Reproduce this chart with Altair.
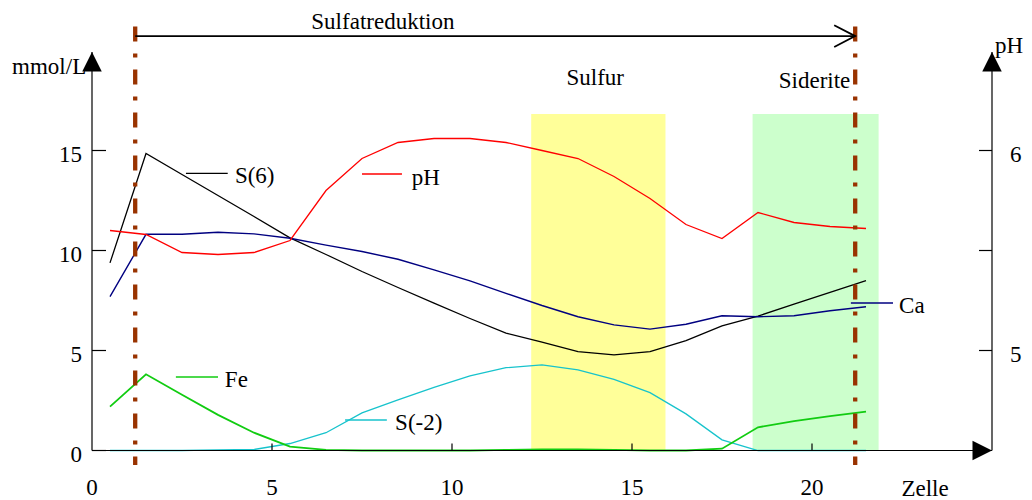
import altair as alt
import pandas as pd

# ---------------- data ----------------
zelle = [0.5, 1.5, 2.5, 3.5, 4.5, 5.5, 6.5, 7.5, 8.5, 9.5, 10.5,
         11.5, 12.5, 13.5, 14.5, 15.5, 16.5, 17.5, 18.5, 19.5, 20.5, 21.5]
s6 = [9.38, 14.85, 13.8, 12.75, 11.7, 10.63, 9.8, 8.95, 8.15, 7.37, 6.6,
      5.87, 5.42, 4.94, 4.78, 4.94, 5.49, 6.23, 6.72, 7.32, 7.91, 8.49]
ca = [7.69, 10.81, 10.81, 10.91, 10.83, 10.61, 10.27, 9.95, 9.56, 9.03, 8.48,
      7.86, 7.25, 6.69, 6.28, 6.07, 6.31, 6.74, 6.69, 6.74, 6.99, 7.19]
fe = [2.19, 3.81, 2.79, 1.78, 0.89, 0.19, 0.03, 0.0, 0.0, 0.0, 0.0,
      0.03, 0.05, 0.05, 0.03, 0.0, 0.0, 0.09, 1.16, 1.47, 1.72, 1.94]
s_minus2 = [0.0, 0.0, 0.0, 0.03, 0.05, 0.35, 0.89, 1.88, 2.53, 3.16, 3.73,
            4.14, 4.28, 4.03, 3.56, 2.89, 1.83, 0.53, 0.0, 0.0, 0.0, 0.0]
ph = [5.60, 5.58, 5.49, 5.48, 5.49, 5.55, 5.80, 5.96, 6.04, 6.06, 6.06,
      6.04, 6.00, 5.96, 5.87, 5.76, 5.63, 5.56, 5.69, 5.64, 5.62, 5.61]

series_cols = ["s_minus2", "fe", "s6", "ca"]
series_labels = ["S(-2)", "Fe", "S(6)", "Ca"]
series_colors = ["#17c3cc", "#11cc11", "#000000", "#000080"]
series_widths = [1.3, 1.8, 1.3, 1.4]
ph_color = "#ff0000"

x_domain = [0, 25]
y_domain = [0, 20]
ph_domain = [4.5, 6.5]
x_ticks = [0, 5, 10, 15, 20]
y_ticks = [0, 5, 10, 15]
ph_ticks = [5.0, 5.5, 6.0]
ph_labels = [5, 6]

zone_names = ["Sulfur", "Siderite"]
zone_start = [12.2, 18.35]
zone_end = [15.93, 21.85]
zone_top = [16.83, 16.83]
zone_colors = ["#ffff99", "#ccffcc"]

boundary_x = [1.2, 21.2]
boundary_top = 21.2
boundary_bottom = -0.73
arrow_y = 20.72
axis_top = 19.93

# annotation texts (data coordinates)
txt_center = ["Sulfatreduktion", "Sulfur", "Siderite", "Zelle"]
txt_center_x = [8.08, 13.98, 20.07, 23.14]
txt_center_y = [21.075, 18.3, 18.15, -2.275]
txt_left = ["mmol/L", "pH", "S(6)", "pH", "Fe", "S(-2)", "Ca"]
txt_left_x = [-2.22, 25.08, 3.97, 8.88, 3.69, 8.42, 22.42]
txt_left_y = [18.825, 19.875, 13.36, 13.275, 3.175, 1.025, 6.875]

# inline legend segments
leg_x0 = [2.61, 7.5, 2.33, 7.03, 21.08]
leg_x1 = [3.77, 8.61, 3.5, 8.19, 22.25]
leg_y = [13.86, 13.825, 3.675, 1.525, 7.375]
leg_color = ["#000000", ph_color, "#11cc11", "#17c3cc", "#000080"]

FONT = "Liberation Serif, Times New Roman, serif"
FS = 23

# ---------------- chart ----------------
xs = alt.Scale(domain=x_domain, nice=False, zero=False)
ys = alt.Scale(domain=y_domain, nice=False, zero=False)


def X(f):
    return alt.X(f, type="quantitative", scale=xs, axis=None)


def Y(f):
    return alt.Y(f, type="quantitative", scale=ys, axis=None)


ph_expr = (f"(datum.ph - {ph_domain[0]}) / ({ph_domain[1]} - {ph_domain[0]})"
           f" * {y_domain[1]}")

df = pd.DataFrame({"zelle": zelle, "s6": s6, "ca": ca, "fe": fe,
                   "s_minus2": s_minus2, "ph": ph})

layers = []

# background zones
for i in range(len(zone_names)):
    zdf = pd.DataFrame({"x0": [zone_start[i]], "x1": [zone_end[i]],
                        "b": [0.0], "t": [zone_top[i]]})
    layers.append(alt.Chart(zdf).mark_rect(color=zone_colors[i]).encode(
        x=X("x0"), x2="x1", y=Y("b"), y2="t"))

# concentration series
for col, c, w in zip(series_cols, series_colors, series_widths):
    layers.append(alt.Chart(df).mark_line(color=c, strokeWidth=w).encode(
        x=X("zelle"), y=Y(col)))

# pH series (right axis)
layers.append(alt.Chart(df).transform_calculate(ph_mm=ph_expr)
              .mark_line(color=ph_color, strokeWidth=1.3)
              .encode(x=X("zelle"), y=Y("ph_mm")))

# boundaries (dash-dot)
bdf = pd.DataFrame({"x": boundary_x, "top": [boundary_top] * 2,
                    "bot": [boundary_bottom] * 2})
layers.append(alt.Chart(bdf).mark_rule(color="#993300", strokeWidth=4.3,
                                       strokeDash=[15, 12, 4, 12])
              .encode(x=X("x"), y=Y("top"), y2="bot"))

# Sulfatreduktion arrow
adf = pd.DataFrame({"x0": [boundary_x[0]], "x1": [boundary_x[1]], "y": [arrow_y]})
layers.append(alt.Chart(adf).mark_rule(color="black", strokeWidth=1.8)
              .encode(x=X("x0"), x2="x1", y=Y("y")))
layers.append(alt.Chart(adf).mark_point(shape="M-1,-0.52L0,0L-1,0.52", size=1764,
                                        filled=False, stroke="black",
                                        strokeWidth=1.8, opacity=1)
              .encode(x=X("x1"), y=Y("y")))

# axis lines
axdf = pd.DataFrame({"x0": [0, x_domain[1], 0], "x1": [0, x_domain[1], x_domain[1]],
                     "y0": [0, 0, 0], "y1": [axis_top, axis_top, 0]})
layers.append(alt.Chart(axdf).mark_rule(color="black", strokeWidth=1.2)
              .encode(x=X("x0"), x2="x1", y=Y("y0"), y2="y1"))
updf = pd.DataFrame({"x": [0, x_domain[1]], "y": [axis_top, axis_top]})
layers.append(alt.Chart(updf).mark_point(shape="M0,0L-0.5,1L0.5,1Z", size=1521,
                                         filled=True, color="black", opacity=1)
              .encode(x=X("x"), y=Y("y")))
rtdf = pd.DataFrame({"x": [x_domain[1]], "y": [0]})
layers.append(alt.Chart(rtdf).mark_point(shape="M0,0L-1,-0.5L-1,0.5Z", size=1521,
                                         filled=True, color="black", opacity=1)
              .encode(x=X("x"), y=Y("y")))

# ticks
ytdf = pd.DataFrame({"t": y_ticks, "x": [0] * len(y_ticks)})
layers.append(alt.Chart(ytdf).mark_rule(color="black", strokeWidth=1.2)
              .encode(x=X("x"), x2=alt.value(14), y=Y("t")))
xtdf = pd.DataFrame({"t": x_ticks, "y": [0] * len(x_ticks)})
layers.append(alt.Chart(xtdf).transform_filter("datum.t > 0")
              .mark_rule(color="black", strokeWidth=1.2)
              .encode(x=X("t"), y=Y("y"), y2=alt.value(393)))
ptdf = pd.DataFrame({"ph": ph_ticks, "x": [x_domain[1]] * len(ph_ticks)})
layers.append(alt.Chart(ptdf).transform_calculate(mm=ph_expr)
              .mark_rule(color="black", strokeWidth=1.2)
              .encode(x=X("x"), x2=alt.value(887), y=Y("mm")))

# tick labels
layers.append(alt.Chart(ytdf).mark_text(font=FONT, fontSize=FS, align="right",
                                        baseline="alphabetic", dx=-10, dy=11)
              .encode(x=X("x"), y=Y("t"), text=alt.Text("t:Q", format="d")))
layers.append(alt.Chart(xtdf).mark_text(font=FONT, fontSize=FS, align="center",
                                        baseline="alphabetic", dy=44.5)
              .encode(x=X("t"), y=Y("y"), text=alt.Text("t:Q", format="d")))
pldf = pd.DataFrame({"ph": ph_labels, "x": [x_domain[1]] * len(ph_labels)})
layers.append(alt.Chart(pldf).transform_calculate(mm=ph_expr)
              .mark_text(font=FONT, fontSize=FS, align="left",
                         baseline="alphabetic", dx=18, dy=11)
              .encode(x=X("x"), y=Y("mm"), text=alt.Text("ph:Q", format="d")))

# legend segments
ldf = pd.DataFrame({"x0": leg_x0, "x1": leg_x1, "y": leg_y, "c": leg_color})
layers.append(alt.Chart(ldf).mark_rule(strokeWidth=1.3)
              .encode(x=X("x0"), x2="x1", y=Y("y"),
                      color=alt.Color("c:N", scale=None)))

# annotation texts
tcdf = pd.DataFrame({"s": txt_center, "x": txt_center_x, "y": txt_center_y})
layers.append(alt.Chart(tcdf).mark_text(font=FONT, fontSize=FS, align="center",
                                        baseline="alphabetic", color="black")
              .encode(x=X("x"), y=Y("y"), text="s:N"))
tldf = pd.DataFrame({"s": txt_left, "x": txt_left_x, "y": txt_left_y})
layers.append(alt.Chart(tldf).mark_text(font=FONT, fontSize=FS, align="left",
                                        baseline="alphabetic", color="black")
              .encode(x=X("x"), y=Y("y"), text="s:N"))

chart = alt.layer(*layers).properties(
    width=900, height=400,
    autosize=alt.AutoSizeParams(type="none"),
    padding={"left": 84, "top": 42.5, "right": 32, "bottom": 49.5},
    background="white",
).configure_view(stroke=None)

chart.save("out.html", embed_options={"renderer": "svg", "actions": False})
